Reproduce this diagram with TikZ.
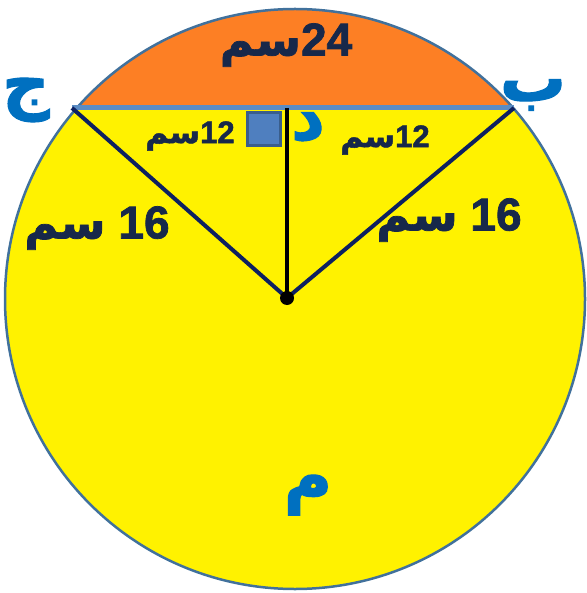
\documentclass[tikz,border=0pt]{standalone}
\usepackage{fontspec}
\setmainfont{Liberation Sans}[BoldFeatures={FakeBold=1.6}]
\newfontfamily\arabicfont[Script=Arabic, BoldFeatures={FakeBold=1.6}]{DejaVu Sans}
\TeXXeTstate=1
\definecolor{circedge}{HTML}{41719C}
\definecolor{segorange}{HTML}{FD7F24}
\definecolor{chordblue}{HTML}{5B8CC4}
\definecolor{navy}{HTML}{0D2060}
\definecolor{txtnavy}{HTML}{17284A}
\definecolor{letterblue}{HTML}{0070C0}
\definecolor{sqfill}{HTML}{4F7FBF}
\definecolor{sqedge}{HTML}{3A5E8C}
\tikzset{
  radius line/.style={draw=navy, line width=4pt},
  measure/.style={text=txtnavy, font=\bfseries\fontsize{46}{50}\selectfont, inner sep=0pt},
  small measure/.style={text=txtnavy, font=\bfseries\fontsize{31}{34}\selectfont, inner sep=0pt},
  letter/.style={text=letterblue, font=\arabicfont\bfseries\fontsize{66}{70}\selectfont, inner sep=0pt},
}
\begin{document}
\begin{tikzpicture}[x=1pt,y=-1pt]
\useasboundingbox (0,0) rectangle (586,593);
\coordinate (C) at (295,299);
\coordinate (O) at (287,298);
\coordinate (J) at (72,108);
\coordinate (B) at (514,108);
\coordinate (D) at (287,108);
% circle fill
\fill[yellow] (C) circle[radius=290pt];
\begin{scope}
  \clip (C) circle[radius=290pt];
  \fill[segorange] (0,0) rectangle (586,108);
\end{scope}
\draw[circedge, line width=2.5pt] (C) circle[radius=290pt];
% chord
\draw[chordblue, line width=5pt] (J) -- (B);
% right-angle square
\node[draw=sqedge, fill=sqfill, line width=2.5pt, minimum size=33pt, inner sep=0pt] (sq) at (264,129) {};
% radii and perpendicular
\draw[radius line] (J) -- (O);
\draw[radius line] (B) -- (O);
\draw[black, line width=3.5pt] (D) -- (O);
\fill[black] (O) circle[radius=7pt];
% measurements
\node[measure] (t24) at (286,45) {{\arabicfont\beginR سم\endR}24};
\node[small measure] (t12l) at (190,136) {{\arabicfont\beginR سم\endR}12};
\node[small measure] (t12r) at (385,140) {{\arabicfont\beginR سم\endR}12};
\node[measure] (t16l) at (97,228) {{\arabicfont\beginR سم\endR} 16};
\node[measure] (t16r) at (449,220) {{\arabicfont\beginR سم\endR} 16};
% letters
\node[letter] (lj) at (26,100) {\beginR ج\endR};
\node[letter] (lb) at (533,95) {\beginR ب\endR};
\node[letter] (ld) at (308,127) {\beginR د\endR};
\node[letter] (lm) at (308,495) {\beginR م\endR};
\end{tikzpicture}
\end{document}
